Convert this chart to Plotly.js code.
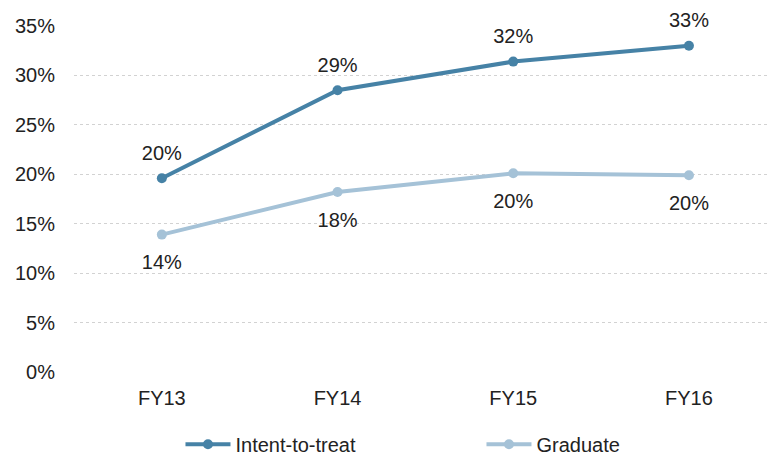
<!DOCTYPE html>
<html>
<head>
<meta charset="utf-8">
<script src="https://cdn.plot.ly/plotly-3.0.1.min.js"></script>
<style>html,body{margin:0;padding:0;background:#fff;}#chart{width:768px;height:458px;}</style>
</head>
<body>
<div id="chart"></div>
<script>
const categories = ["FY13", "FY14", "FY15", "FY16"];
const intentToTreat = [19.6, 28.5, 31.4, 33.0];
const intentLabels = ["20%", "29%", "32%", "33%"];
const graduate = [13.9, 18.2, 20.1, 19.9];
const graduateLabels = ["14%", "18%", "20%", "20%"];
const yTickVals = [0, 5, 10, 15, 20, 25, 30, 35];
const yTickText = ["0%", "5%", "10%", "15%", "20%", "25%", "30%", "35%"];

const font = {family: "Liberation Sans, Arial, sans-serif", size: 20, color: "#222"};
const intentColor = "#4682a6";
const gradColor = "#a5c2d7";

const traces = [
  {
    x: categories, y: intentToTreat, name: "Intent-to-treat",
    mode: "lines+markers", cliponaxis: false,
    line: {color: intentColor, width: 4},
    marker: {color: intentColor, size: 10}
  },
  {
    x: categories, y: graduate, name: "Graduate",
    mode: "lines+markers", cliponaxis: false,
    line: {color: gradColor, width: 4},
    marker: {color: gradColor, size: 10}
  },
  {
    x: categories, y: intentToTreat, showlegend: false, hoverinfo: "skip",
    mode: "markers+text", text: intentLabels, textposition: "top center",
    textfont: font, cliponaxis: false,
    marker: {size: 20, opacity: 0}
  },
  {
    x: categories, y: graduate, showlegend: false, hoverinfo: "skip",
    mode: "markers+text", text: graduateLabels, textposition: "bottom center",
    textfont: font, cliponaxis: false,
    marker: {size: 30, opacity: 0}
  }
];

const layout = {
  width: 768, height: 458,
  margin: {l: 74, r: 0, t: 26, b: 86},
  paper_bgcolor: "#fff", plot_bgcolor: "#fff",
  font: font,
  showlegend: true,
  legend: {
    orientation: "h", xref: "container", yref: "container",
    x: 0.235, xanchor: "left", y: 0.03, yanchor: "middle",
    entrywidth: 241, entrywidthmode: "pixels", itemwidth: 45,
    font: font, traceorder: "normal"
  },
  xaxis: {
    type: "category", range: [-0.5, 3.45],
    showgrid: false, zeroline: false, showline: false,
    ticks: "", tickfont: font, ticklabelstandoff: 12
  },
  yaxis: {
    range: [0, 35], tickvals: yTickVals, ticktext: yTickText,
    showgrid: true, gridcolor: "#d2d2d2", griddash: "dot", gridwidth: 1,
    zeroline: false, showline: false, ticks: "", tickfont: font,
    ticklabelstandoff: 18
  }
};

Plotly.newPlot("chart", traces, layout, {displayModeBar: false, staticPlot: true});
</script>
</body>
</html>
